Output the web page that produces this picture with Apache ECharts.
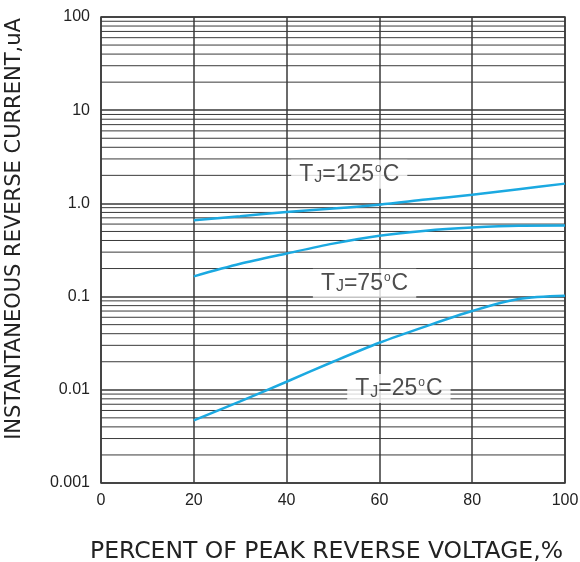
<!DOCTYPE html>
<html><head><meta charset="utf-8">
<script src="https://cdn.jsdelivr.net/npm/echarts@6/dist/echarts.min.js"></script>
<style>html,body{margin:0;padding:0;background:#fff}#c{width:580px;height:562px}</style>
</head><body><div id="c"></div>
<script>
const voltage = [20, 30, 40, 50, 60, 70, 80, 90, 100];
const tj125 = [0.66, 0.73, 0.81, 0.88, 0.97, 1.1, 1.24, 1.42, 1.63];
const tj75 = [0.165, 0.225, 0.29, 0.37, 0.45, 0.51, 0.55, 0.575, 0.578];
const tj25 = [0.0047, 0.0075, 0.0122, 0.0200, 0.032, 0.048, 0.070, 0.094, 0.102];
const yTicks = ['0.001', '0.01', '0.1', '1.0', '10', '100'];
const labelsText = [
  {t: '125', x: 53.5, y: 2.05},
  {t: '75', x: 56.8, y: 0.139},
  {t: '25', x: 64.2, y: 0.0103}
];
const decades = [0.001, 0.01, 0.1, 1, 10];
const mults = [2, 3, 4, 5, 6, 7, 8, 9];

// minor log grid lines (axis structure), drawn as broken segments across the x range
const minorData = [];
decades.forEach(d => mults.forEach(m => {
  const v = +(d * m).toPrecision(3);
  minorData.push([0, v], [100, v], '-');
}));

const font = 'Liberation Sans, Arial, sans-serif';
const wideFont = 'DejaVu Sans, sans-serif';
const lineColor = '#1ba9e1';
const gridColor = '#3a3a3a';

function pairs(vals){ return voltage.map((v,i)=>[v, vals[i]]); }

const series = [
  {type:'line', data: minorData, symbol:'none', silent:true, connectNulls:false,
   lineStyle:{color:gridColor, width:1}, z:1},
  {type:'line', data: pairs(tj125), smooth: 0.3, symbol:'none', lineStyle:{color:lineColor,width:2.5}, z:5},
  {type:'line', data: pairs(tj75), smooth: 0.3, symbol:'none', lineStyle:{color:lineColor,width:2.5}, z:5},
  {type:'line', data: pairs(tj25), smooth: 0.3, symbol:'none', lineStyle:{color:lineColor,width:2.5}, z:5}
];
labelsText.forEach(l => {
  series.push({type:'scatter', data:[[l.x, l.y]], symbolSize:1, itemStyle:{color:'rgba(0,0,0,0)'}, z:10,
    label:{show:true, position:'inside', backgroundColor:'#fff', padding:[3,8,3,8],
      formatter: '{a|T}{b|J}{a|=' + l.t + '}{c|o}{a|C}',
      rich:{
        a:{fontFamily:font, fontSize:23, color:'#222'},
        b:{fontFamily:font, fontSize:16, color:'#222', verticalAlign:'bottom', padding:[6,0,0,1]},
        c:{fontFamily:font, fontSize:12, color:'#222', verticalAlign:'top', padding:[0,1,9,1]}
      }}});
});

const chart = echarts.init(document.getElementById('c'), null, {renderer:'canvas'});
chart.setOption({
  animation:false,
  grid:{left:101, top:17, right:15, bottom:79, show:true, borderColor:gridColor, borderWidth:1.5,
    containLabel:false, outerBoundsMode:'none'},
  xAxis:{type:'value', min:0, max:100, interval:20,
    name:'PERCENT OF PEAK REVERSE VOLTAGE,%', nameLocation:'middle', nameGap:57,
    nameTextStyle:{fontFamily:wideFont, fontSize:23.5, color:'#222', padding:[0,13,0,0]},
    axisLine:{show:false}, axisTick:{show:false},
    axisLabel:{fontFamily:font, fontSize:16, color:'#222', margin:10},
    splitLine:{show:true, lineStyle:{color:gridColor, width:1.5}}},
  yAxis:{type:'log', logBase:10, min:0.001, max:100,
    name:'INSTANTANEOUS REVERSE CURRENT,uA', nameLocation:'middle', nameGap:76,
    nameTextStyle:{fontFamily:wideFont, fontSize:21, color:'#222', padding:[0,0,0,42]},
    axisLine:{show:false}, axisTick:{show:false},
    axisLabel:{fontFamily:font, fontSize:16, color:'#222', margin:11,
      formatter: v => { const i = Math.round(Math.log10(v)) + 3; return yTicks[i] !== undefined ? yTicks[i] : ''; }},
    splitLine:{show:true, lineStyle:{color:gridColor, width:1.5}}},
  series: series
});
</script></body></html>
